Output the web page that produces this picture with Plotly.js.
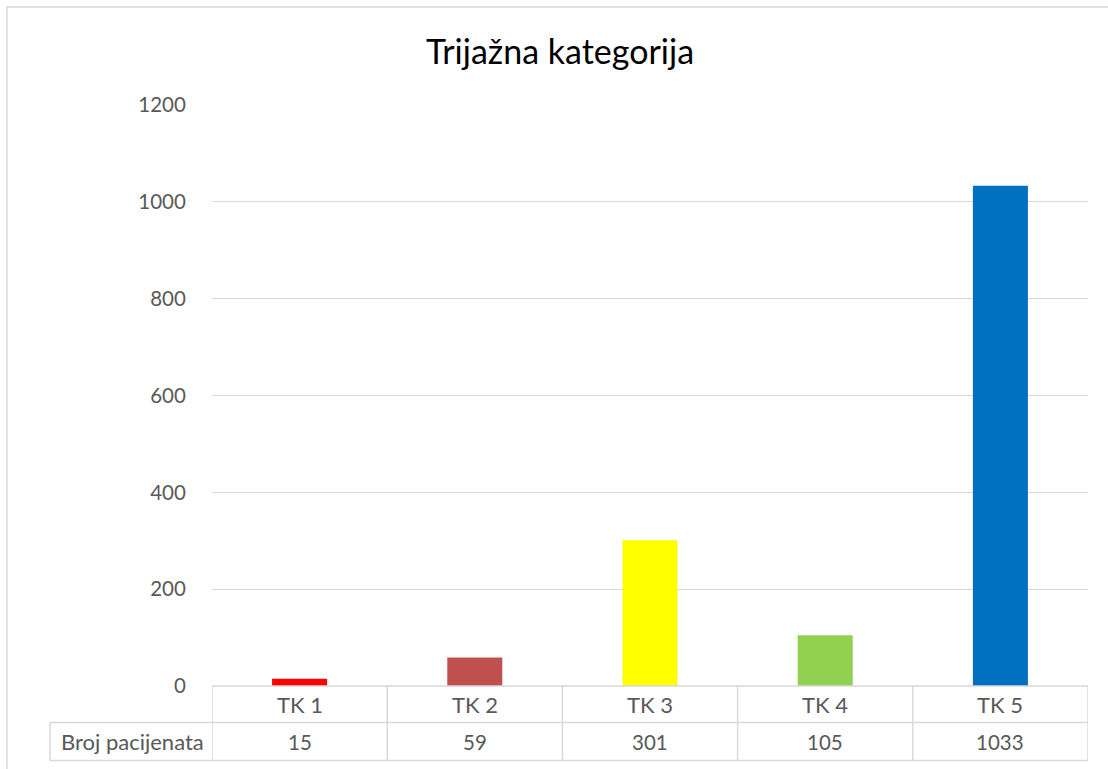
<!DOCTYPE html>
<html>
<head>
<meta charset="utf-8">
<script src="https://cdn.plot.ly/plotly-3.0.1.min.js"></script>
<style>html,body{margin:0;padding:0;background:#fff;}#chart{width:1108px;height:769px;}</style>
</head>
<body>
<div id="chart"></div>
<script>
const categories = ["TK 1", "TK 2", "TK 3", "TK 4", "TK 5"];
const values = [15, 59, 301, 105, 1033];
const barColors = ["#FF0000", "#C0504D", "#FFFF00", "#92D050", "#0070C0"];
const seriesName = "Broj pacijenata";
const yTicks = [0, 200, 400, 600, 800, 1000, 1200];

const W = 1108, H = 769;
const L = 212, R = 1088, T = 105, B = 686;
const pw = R - L, ph = B - T;
const px = v => (v - L) / pw;
const py = v => (B - v) / ph;

const lineC = "#D9D9D9";
const font = "Lato, 'Open Sans', sans-serif";
const txtC = "#595959";

const shapes = [];
const row1 = py(722.5), row2 = py(760.5);
shapes.push({type:"line", xref:"paper", yref:"paper", x0:0, x1:1, y0:0, y1:0, line:{color:lineC, width:1.5}});
shapes.push({type:"line", xref:"paper", yref:"paper", x0:px(50), x1:1, y0:row1, y1:row1, line:{color:lineC, width:1.5}});
shapes.push({type:"line", xref:"paper", yref:"paper", x0:px(50), x1:1, y0:row2, y1:row2, line:{color:lineC, width:1.5}});
for (let i = 0; i <= categories.length; i++) {
  shapes.push({type:"line", xref:"x", yref:"paper", x0:i-0.5, x1:i-0.5, y0:0, y1:row2, line:{color:lineC, width:1.5}});
}
shapes.push({type:"line", xref:"paper", yref:"paper", x0:px(50), x1:px(50), y0:row1, y1:row2, line:{color:lineC, width:1.5}});
shapes.push({type:"rect", xref:"paper", yref:"paper", x0:px(7), x1:px(1120), y0:py(7), y1:py(790), line:{color:lineC, width:1.5}, fillcolor:"rgba(0,0,0,0)", layer:"below"});

const annotations = [];
categories.forEach((c, i) => {
  annotations.push({x:i, xref:"x", y:(0 + row1)/2, yref:"paper", text:c, showarrow:false, xanchor:"center", yanchor:"middle", font:{family:font, size:22, color:txtC}});
  annotations.push({x:i, xref:"x", y:(row1 + row2)/2, yref:"paper", text:String(values[i]), showarrow:false, xanchor:"center", yanchor:"middle", font:{family:font, size:20.5, color:txtC}});
});
annotations.push({x:px(132), xref:"paper", y:(row1 + row2)/2, yref:"paper", text:seriesName, showarrow:false, xanchor:"center", yanchor:"middle", font:{family:font, size:22, color:txtC}});

const trace = {
  type:"bar",
  x: categories.map((c, i) => i),
  y: values,
  marker:{color:barColors, line:{width:0}},
  name: seriesName,
  hoverinfo:"y"
};

const layout = {
  width:W, height:H,
  margin:{l:L, r:W-R, t:T, b:H-B, pad:0},
  paper_bgcolor:"#fff", plot_bgcolor:"#fff",
  showlegend:false,
  bargap:0.686,
  title:{text:"Trijažna kategorija", x:px(560), xref:"paper", xanchor:"center", y:1-52/H, yanchor:"middle", font:{family:font, size:34, color:"#000"}},
  xaxis:{range:[-0.5, 4.5], showticklabels:false, showgrid:false, zeroline:false, showline:false, ticks:"", fixedrange:true},
  yaxis:{range:[0, 1200], tickvals:yTicks, ticktext:yTicks.map(String), showgrid:true, gridcolor:lineC, gridwidth:1.2, zeroline:false, showline:false,
         ticks:"outside", ticklen:21, tickcolor:"rgba(0,0,0,0)", tickfont:{family:font, size:20.5, color:txtC}, fixedrange:true},
  shapes:shapes,
  annotations:annotations
};

Plotly.newPlot("chart", [trace], layout, {displayModeBar:false, staticPlot:true});
</script>
</body>
</html>
